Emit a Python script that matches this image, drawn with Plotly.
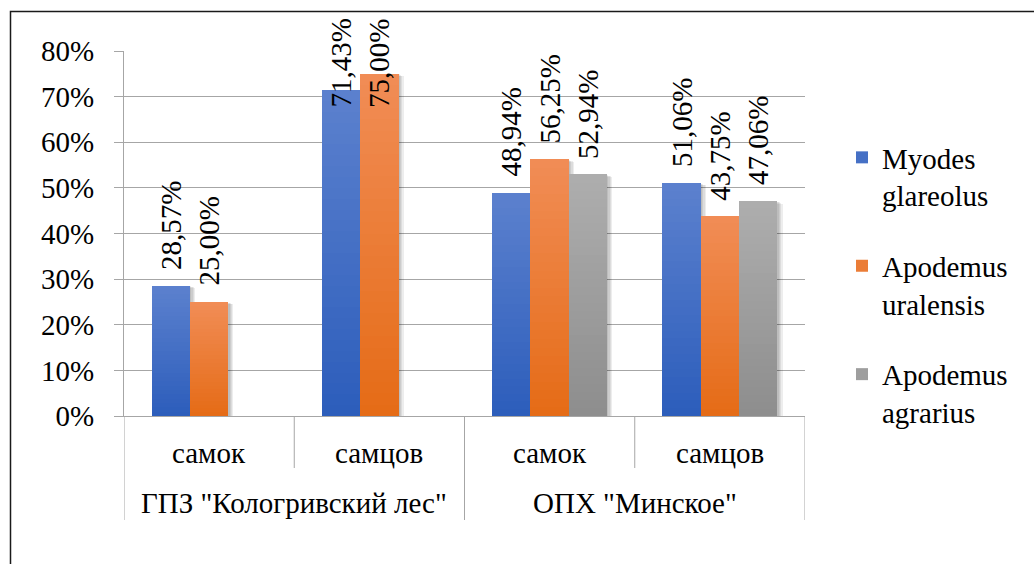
import plotly.graph_objects as go

# --- data -----------------------------------------------------------------
groups = ['ГПЗ "Кологривский лес"', 'ОПХ "Минское"']
subcats = ["самок", "самцов", "самок", "самцов"]
group_of = [0, 0, 1, 1]

series_names = ["Myodes<br>glareolus", "Apodemus<br>uralensis", "Apodemus<br>agrarius"]
myodes = [0.2857, 0.7143, 0.4894, 0.5106]
uralensis = [0.2500, 0.7500, 0.5625, 0.4375]
agrarius = [None, None, 0.5294, 0.4706]
series_values = [myodes, uralensis, agrarius]

y_ticks = [0, 0.1, 0.2, 0.3, 0.4, 0.5, 0.6, 0.7, 0.8]

# --- styling --------------------------------------------------------------
FONT = "Liberation Serif, Times New Roman, serif"
FS = 29
GRID = "#a6a6a6"
# gradient colours per series: (top, bottom)
grad = [
    ((92, 129, 206), (44, 93, 187)),
    ((241, 141, 86), (229, 107, 22)),
    ((174, 174, 174), (141, 141, 141)),
]
N_SLICES = 30
BAR_W = 0.225          # width of one bar in category units
W, H = 1034, 564
L, R, T, B = 124, 229, 51, 148
PW = W - L - R         # plot width in px
PH = H - T - B         # plot height in px
Y_MAX = 0.8


def mix(c0, c1, t):
    return "rgb(%d,%d,%d)" % tuple(round(a + (b - a) * t) for a, b in zip(c0, c1))


def py_to_paper(px):
    return (H - B - px) / PH


def px_to_paperx(px):
    return (px - L) / PW


n = len(subcats)
cat_px = PW / n

fig = go.Figure()

# Soft drop shadow behind the bars (a few offset translucent layers)
for s, vals in enumerate(series_values):
    xs = [i + (s - 1) * BAR_W for i, v in enumerate(vals) if v is not None]
    vv = [v for v in vals if v is not None]
    for k in (1, 2, 3, 4):
        dx = k * 1.3 / cat_px
        dy = k * 0.6 / PH * Y_MAX
        fig.add_trace(go.Bar(
            x=[x + dx for x in xs],
            y=[v - dy for v in vv],
            width=BAR_W,
            marker=dict(color="rgba(0,0,0,0.07)", line=dict(width=0)),
            showlegend=False,
            hoverinfo="skip",
        ))

# Bars drawn as stacked horizontal slices so each bar gets a vertical gradient
for s, vals in enumerate(series_values):
    top_c, bot_c = grad[s]
    xs = [i + (s - 1) * BAR_W for i, v in enumerate(vals) if v is not None]
    vv = [v for v in vals if v is not None]
    for k in range(N_SLICES):
        t = (k + 0.5) / N_SLICES
        fig.add_trace(go.Bar(
            x=xs,
            y=[v / N_SLICES for v in vv],
            base=[v * k / N_SLICES for v in vv],
            width=BAR_W,
            marker=dict(color=mix(bot_c, top_c, t), line=dict(width=0)),
            name=series_names[s],
            legendgroup="s%d" % s,
            showlegend=(k == N_SLICES // 2),
            hoverinfo="skip",
        ))

# Value labels, rotated, above each bar (pulled down when they would leave the chart)
LABEL_GAP = 16
LABEL_LEN = 92
for s, vals in enumerate(series_values):
    for i, v in enumerate(vals):
        if v is None:
            continue
        txt = ("%.2f%%" % (v * 100)).replace(".", ",")
        x = i + (s - 1) * BAR_W
        bar_top_px = H - B - v / Y_MAX * PH
        if bar_top_px - LABEL_GAP - LABEL_LEN < 18:
            fig.add_annotation(x=x, xref="x", y=py_to_paper(17), yref="paper",
                               yanchor="top", text=txt, textangle=-90,
                               showarrow=False, font=dict(family=FONT, size=FS, color="black"))
        else:
            fig.add_annotation(x=x, xref="x", y=v, yref="y", yanchor="bottom",
                               yshift=LABEL_GAP - 2, text=txt, textangle=-90,
                               showarrow=False, font=dict(family=FONT, size=FS, color="black"))

# Category labels (two-level axis)
for i, lab in enumerate(subcats):
    fig.add_annotation(x=i, xref="x", y=py_to_paper(453), yref="paper", yanchor="middle",
                       text=lab, showarrow=False, font=dict(family=FONT, size=FS, color="black"))
for g, lab in enumerate(groups):
    idx = [i for i, gg in enumerate(group_of) if gg == g]
    fig.add_annotation(x=(idx[0] + idx[-1]) / 2, xref="x", y=py_to_paper(503), yref="paper",
                       yanchor="middle", text=lab, showarrow=False,
                       font=dict(family=FONT, size=FS, color="black"))

# Divider lines between categories and groups
shapes = []
for b in range(n + 1):
    xb = b - 0.5
    is_group_edge = b == 0 or b == n or group_of[b - 1] != group_of[b]
    bottom_px = 520 if is_group_edge else 468
    shapes.append(dict(type="line", xref="x", yref="paper", x0=xb, x1=xb,
                       y0=0, y1=py_to_paper(bottom_px), line=dict(color=GRID, width=1)))
# Chart frame
shapes.append(dict(type="rect", xref="paper", yref="paper",
                   x0=px_to_paperx(10.5), x1=px_to_paperx(W + 20),
                   y0=py_to_paper(H + 20), y1=py_to_paper(11.5),
                   line=dict(color="#1a1a1a", width=1.5), fillcolor="rgba(0,0,0,0)", layer="above"))

fig.update_layout(
    width=W, height=H,
    margin=dict(l=L, r=R, t=T, b=B, pad=0),
    paper_bgcolor="white", plot_bgcolor="white",
    barmode="overlay",
    bargap=0,
    shapes=shapes,
    font=dict(family=FONT, size=FS, color="black"),
    legend=dict(
        x=px_to_paperx(842), xanchor="left",
        y=py_to_paper(132), yanchor="top",
        font=dict(family=FONT, size=FS, color="black"),
        tracegroupgap=30, valign="top",
        bgcolor="rgba(0,0,0,0)", itemwidth=30,
    ),
    xaxis=dict(range=[-0.5, n - 0.5], showticklabels=False, showgrid=False,
               zeroline=False, showline=True, linecolor=GRID, linewidth=1, ticks=""),
    yaxis=dict(range=[0, Y_MAX], tickvals=y_ticks, tickformat=".0%",
               showgrid=True, gridcolor=GRID, gridwidth=1, zeroline=False,
               showline=True, linecolor=GRID, linewidth=1,
               ticks="outside", ticklen=9, tickcolor=GRID, ticklabelstandoff=14,
               tickfont=dict(family=FONT, size=FS, color="black")),
)

fig.write_html("out.html")
